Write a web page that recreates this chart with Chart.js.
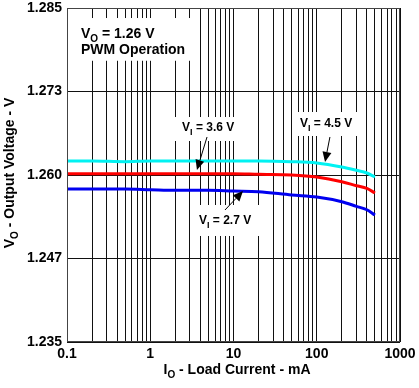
<!DOCTYPE html>
<html><head><meta charset="utf-8">
<script src="https://cdn.jsdelivr.net/npm/chart.js@4.4.1/dist/chart.umd.min.js"></script>
<style>html,body{margin:0;padding:0;background:#fff}canvas{display:block}</style>
</head><body><canvas id="c" width="419" height="388"></canvas>
<script>
// ---- data ----
const loadCurrent = [0.1, 0.2, 0.5, 1, 2, 5, 10, 20, 50, 100, 200, 300, 400, 500];
const vi45 = [1.2621, 1.2621, 1.2620, 1.2621, 1.2621, 1.2621, 1.2621, 1.2621, 1.2620, 1.2618, 1.2612, 1.2607, 1.2603, 1.2597];
const vi36 = [1.2602, 1.2602, 1.2602, 1.2602, 1.2602, 1.2602, 1.2602, 1.2601, 1.2600, 1.2597, 1.2590, 1.2584, 1.2580, 1.2573];
const vi27 = [1.2579, 1.2579, 1.2579, 1.2578, 1.2577, 1.2577, 1.2576, 1.2575, 1.2570, 1.2567, 1.2560, 1.2553, 1.2548, 1.2540];
const yTickValues = [1.235, 1.2475, 1.26, 1.2725, 1.285];
const yTickLabels = ['1.235', '1.247', '1.260', '1.273', '1.285'];
const xDecades = [0.1, 1, 10, 100, 1000];
const xDecadeLabels = ['0.1', '1', '10', '100', '1000'];

const xGridValues = [];
for (let d = 0; d < xDecades.length - 1; d++) {
  for (let m = 1; m <= 9; m++) xGridValues.push(+(xDecades[d] * m).toPrecision(6));
}
xGridValues.push(xDecades[xDecades.length - 1]);

const pts = arr => loadCurrent.map((x, i) => ({x, y: arr[i]}));

const FONT = '"Liberation Sans", Arial, Helvetica, sans-serif';

// annotations in data coordinates
const notes = [
  {box: [0.1148, 3.45, 1.2835, 1.2771],
   lines: [{x: 0.147, y: 1.2805, parts: [{t: 'V'}, {t: 'O', sub: true}, {t: ' = 1.26 V'}]},
           {x: 0.147, y: 1.2781, parts: [{t: 'PWM Operation'}]}],
   size: 14},
  {box: [1.55, 11.9, 1.26868, 1.26509],
   lines: [{x: 2.41, y: 1.26659, parts: [{t: 'V'}, {t: 'I', sub: true}, {t: ' = 3.6 V'}]}],
   arrow: [4.81, 1.26569, 3.64, 1.26075], size: 12},
  {box: [54.8, 380, 1.26943, 1.26584],
   lines: [{x: 62.9, y: 1.26719, parts: [{t: 'V'}, {t: 'I', sub: true}, {t: ' = 4.5 V'}]}],
   arrow: [144, 1.26569, 125.7, 1.26195], size: 12},
  {box: [3.17, 22.0, 1.25551, 1.25087],
   lines: [{x: 3.85, y: 1.25266, parts: [{t: 'V'}, {t: 'I', sub: true}, {t: ' = 2.7 V'}]}],
   arrow: [7.9, 1.25476, 13.0, 1.25760], size: 12}
];

function richWidth(ctx, parts, size) {
  let w = 0;
  for (const p of parts) {
    ctx.font = 'bold ' + (p.sub ? Math.round(size * 0.72) : size) + 'px ' + FONT;
    w += ctx.measureText(p.t).width;
  }
  return w;
}
function drawRich(ctx, parts, x, y, size) {
  ctx.textBaseline = 'alphabetic';
  ctx.textAlign = 'left';
  for (const p of parts) {
    ctx.font = 'bold ' + (p.sub ? Math.round(size * 0.72) : size) + 'px ' + FONT;
    ctx.fillText(p.t, x, y + (p.sub ? size * 0.3 : 0));
    x += ctx.measureText(p.t).width;
  }
}

const annotPlugin = {
  id: 'annot',
  beforeDatasetsDraw(chart) {
    const {ctx, chartArea: a, scales: {x, y}} = chart;
    ctx.save();
    ctx.beginPath(); ctx.rect(a.left + 1, a.top + 1, a.right - a.left - 2, a.bottom - a.top - 2); ctx.clip();
    ctx.fillStyle = '#fff';
    for (const n of notes) {
      const x1 = x.getPixelForValue(n.box[0]), x2 = x.getPixelForValue(n.box[1]);
      const y1 = y.getPixelForValue(n.box[2]), y2 = y.getPixelForValue(n.box[3]);
      ctx.fillRect(x1, y1, x2 - x1, y2 - y1);
    }
    ctx.restore();
  },
  afterDatasetsDraw(chart) {
    const {ctx, scales: {x, y}} = chart;
    ctx.save();
    ctx.fillStyle = '#000'; ctx.strokeStyle = '#000';
    for (const n of notes) {
      for (const l of n.lines) drawRich(ctx, l.parts, x.getPixelForValue(l.x), y.getPixelForValue(l.y), n.size);
      if (n.arrow) {
        const x0 = x.getPixelForValue(n.arrow[0]), y0 = y.getPixelForValue(n.arrow[1]);
        const x1 = x.getPixelForValue(n.arrow[2]), y1 = y.getPixelForValue(n.arrow[3]);
        const ang = Math.atan2(y1 - y0, x1 - x0);
        const L = 10, W = 4.5;
        const bx = x1 - L * Math.cos(ang), by = y1 - L * Math.sin(ang);
        ctx.lineWidth = 1;
        ctx.beginPath(); ctx.moveTo(x0, y0); ctx.lineTo(bx, by); ctx.stroke();
        ctx.beginPath();
        ctx.moveTo(x1, y1);
        ctx.lineTo(bx + W * Math.sin(ang), by - W * Math.cos(ang));
        ctx.lineTo(bx - W * Math.sin(ang), by + W * Math.cos(ang));
        ctx.closePath(); ctx.fill();
      }
    }
    // plot border
    const a = chart.chartArea;
    ctx.lineWidth = 1; ctx.strokeStyle = '#444';
    ctx.strokeRect(Math.round(a.left) + 0.5, Math.round(a.top) + 0.5, Math.round(a.right - a.left) - 1, Math.round(a.bottom - a.top) - 1);
    // axis titles
    const xt = [{t: 'I'}, {t: 'O', sub: true}, {t: ' - Load Current - mA'}];
    const wx = richWidth(ctx, xt, 14);
    ctx.fillStyle = '#000';
    drawRich(ctx, xt, 237 - wx / 2, 374, 14);
    const yt = [{t: 'V'}, {t: 'O', sub: true}, {t: ' - Output Voltage - V'}];
    const wy = richWidth(ctx, yt, 14);
    ctx.translate(14, 173);
    ctx.rotate(-Math.PI / 2);
    drawRich(ctx, yt, -wy / 2, 0, 14);
    ctx.restore();
  }
};

new Chart(document.getElementById('c'), {
  type: 'line',
  data: {
    datasets: [
      {label: 'VI = 4.5 V', data: pts(vi45), borderColor: '#00F2F2', borderWidth: 3, pointRadius: 0, cubicInterpolationMode: 'monotone'},
      {label: 'VI = 3.6 V', data: pts(vi36), borderColor: '#FF0000', borderWidth: 3, pointRadius: 0, cubicInterpolationMode: 'monotone'},
      {label: 'VI = 2.7 V', data: pts(vi27), borderColor: '#0000F0', borderWidth: 3, pointRadius: 0, cubicInterpolationMode: 'monotone'}
    ]
  },
  options: {
    responsive: false, animation: false, devicePixelRatio: 1,
    layout: {padding: {top: 8, right: 19, left: 0, bottom: 0}},
    plugins: {legend: {display: false}, tooltip: {enabled: false}},
    scales: {
      x: {
        type: 'logarithmic', min: 0.1, max: 1000,
        afterBuildTicks: s => { s.ticks = xGridValues.map(v => ({value: v})); },
        afterFit: s => { s.height = 46; s.paddingLeft = 0; s.paddingRight = 0; },
        grid: {color: '#111', lineWidth: 1, drawTicks: false},
        border: {display: false},
        ticks: {
          autoSkip: false, maxRotation: 0, padding: 4, color: '#000',
          font: {family: FONT, size: 14, weight: 'bold'},
          callback: v => { const i = xDecades.findIndex(d => Math.abs(d - v) < 1e-9); return i >= 0 ? xDecadeLabels[i] : ''; }
        }
      },
      y: {
        type: 'linear', min: 1.235, max: 1.285,
        afterBuildTicks: s => { s.ticks = yTickValues.map(v => ({value: v})); },
        afterFit: s => { s.width = 67; s.paddingTop = 0; s.paddingBottom = 0; },
        grid: {color: '#111', lineWidth: 1, drawTicks: false},
        border: {display: false},
        ticks: {
          autoSkip: false, padding: 5, color: '#000',
          font: {family: FONT, size: 14, weight: 'bold'},
          callback: (v, i) => yTickLabels[i]
        }
      }
    }
  },
  plugins: [annotPlugin]
});
</script>
</body></html>
